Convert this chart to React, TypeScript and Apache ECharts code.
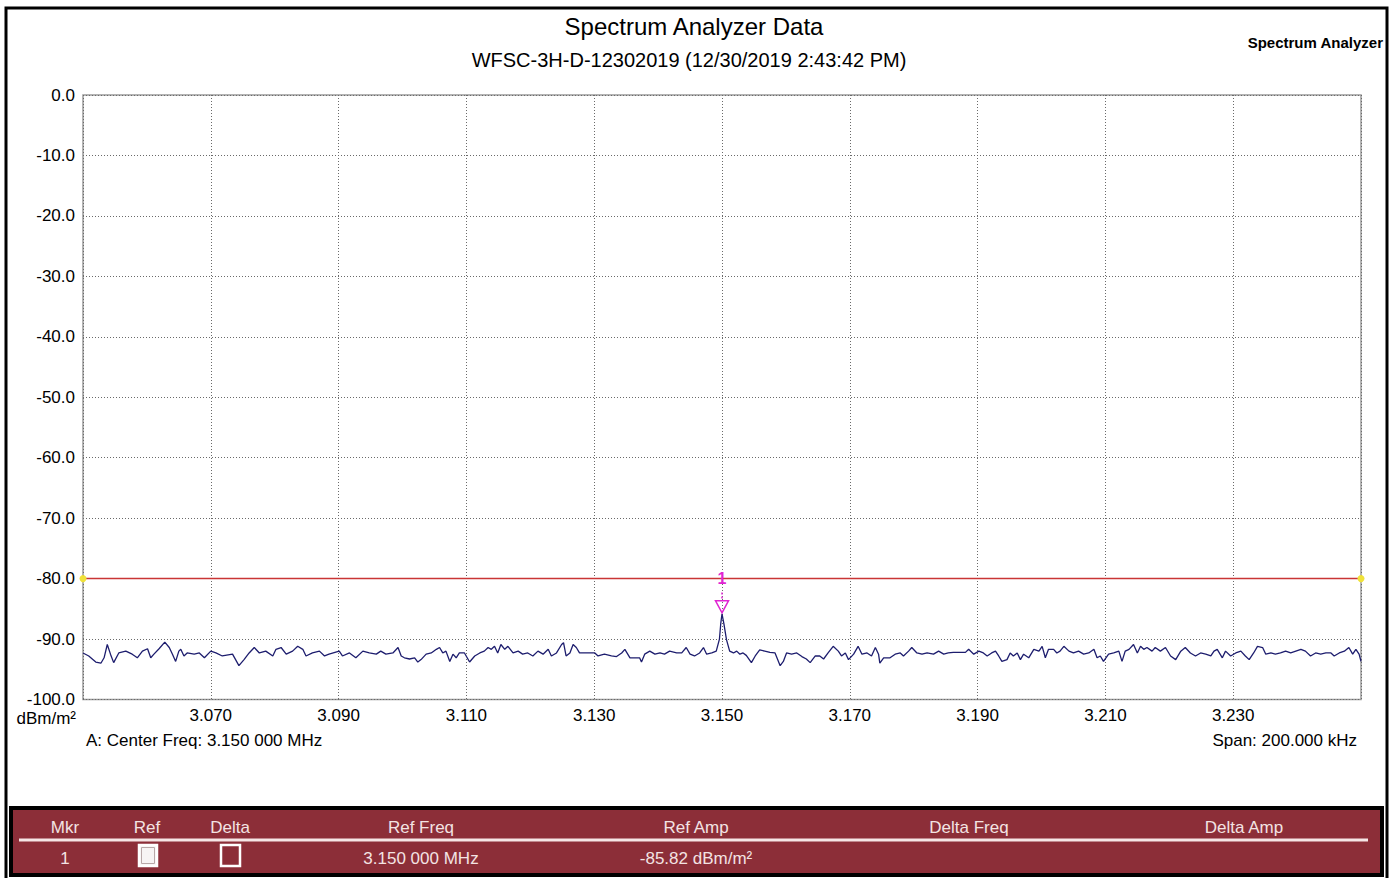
import React, { useEffect, useRef } from "react";
import * as echarts from "echarts";

// ---- data ----
const centerFreqMHz = 3.15;
const spanKHz = 200;
const xTickKHz = 20;
const yMin = -100;
const yMax = 0;
const yStep = 10;
const thresholdDbm = -80;
const markerOffsetKHz = 0;
const markerAmp = -85.82;

const titleText = "Spectrum Analyzer Data";
const subtitleText = "WFSC-3H-D-12302019 (12/30/2019 2:43:42 PM)";
const cornerText = "Spectrum Analyzer";
const unitText = "dBm/m²";
const centerText = "A: Center Freq: 3.150 000 MHz";
const spanText = "Span: 200.000 kHz";

const tableHeaders = ["Mkr", "Ref", "Delta", "Ref Freq", "Ref Amp", "Delta Freq", "Delta Amp"];
const tableRow = ["1", "", "", "3.150 000 MHz", "-85.82 dBm/m²", "", ""];

// frequency offset from centre (kHz) and amplitude (dBm/m²)
const traceOffsetKHz = [
  -100.0, -99.1, -98.0, -97.2, -96.7, -96.2, -95.7, -95.2, -94.4, -93.3, -92.3, -91.5, -90.7, -89.9, -89.4,
  -88.9, -88.1, -87.2, -86.5, -86.0, -85.5, -85.0, -84.7, -84.2, -83.7, -82.6, -81.8, -81.0, -80.0, -79.2,
  -78.2, -76.6, -75.6, -74.8, -74.0, -73.2, -72.4, -71.4, -70.3, -69.8, -69.0, -68.2, -67.2, -66.4, -65.6,
  -65.1, -64.1, -63.0, -62.2, -61.5, -59.9, -59.4, -58.3, -57.3, -56.2, -55.2, -54.1, -53.4, -52.6, -51.5,
  -50.7, -50.2,
  -49.7, -48.9, -48.1, -47.6, -47.1, -46.3, -45.5, -44.7, -44.2, -43.7, -43.2, -42.6, -42.1, -41.6, -41.1,
  -40.3, -39.5, -38.7, -37.9, -37.2, -36.6, -36.1, -35.6, -35.1, -34.6, -34.0, -33.5, -32.7, -31.9, -31.2,
  -30.4, -29.6, -28.8, -28.0, -27.2, -26.7, -25.9, -25.1, -24.8, -24.4, -23.8, -23.3, -22.8, -22.3, -21.8,
  -19.9, -19.4, -18.4, -17.3, -16.5, -15.7, -15.2, -14.4, -12.9, -12.6, -12.1, -11.3, -10.5, -9.7, -9.0,
  -8.2, -7.1, -6.3, -5.6, -5.0, -4.3, -3.5, -2.9, -2.4, -1.6, -0.9, -0.4, -0.2, 0.0, 0.3,
  0.7, 1.2, 1.8, 2.3, 2.8, 3.3, 3.8, 4.6, 5.2, 5.9, 6.7, 7.5, 8.3, 9.1, 9.6,
  10.1, 10.9, 11.7, 12.5, 13.2, 13.8, 14.6, 15.3, 15.9, 16.6, 17.4, 18.2, 18.7, 19.3, 19.8,
  20.6, 21.3, 21.9, 22.7, 23.4, 24.0, 24.5, 24.7, 25.3, 26.3, 27.1, 27.9, 28.4, 29.2, 29.7,
  30.5, 31.3, 32.1, 33.1, 33.9, 34.7, 35.4, 36.2, 38.1, 38.6, 39.4, 40.2, 40.9, 41.5, 42.2,
  42.8, 43.3, 43.8, 44.6, 45.1, 45.6, 46.2, 46.7, 47.2, 48.0, 48.8, 49.6, 50.1, 50.6, 51.1,
  51.9, 52.4, 52.9, 53.5, 54.3, 55.0, 55.8, 56.6, 57.4, 58.2, 58.7, 59.2, 59.7, 60.5, 61.3,
  62.1, 62.6, 63.1, 63.7, 64.4, 65.0, 65.5, 66.0, 66.5, 67.3, 67.8, 68.6, 69.4, 70.2, 71.0,
  71.8, 72.5, 73.3, 74.1, 74.9, 75.7, 76.5, 77.0, 77.5, 78.3, 78.8, 79.6, 80.4, 81.2, 81.9,
  82.5, 83.2, 83.8, 84.6, 85.1, 85.9, 86.6, 87.4, 88.2, 89.0, 89.8, 90.6, 91.3, 92.1, 92.9,
  93.7, 94.5, 95.3, 95.8, 96.6, 97.4, 98.1, 98.7, 99.2, 99.7, 100.0,
];
const traceAmp = [
  -92.3, -92.8, -93.8, -94.0, -93.1, -90.9, -92.5, -93.9, -92.3, -92.0, -92.5, -93.1, -92.0, -91.6, -93.1,
  -92.5, -91.6, -90.5, -91.4, -92.5, -93.7, -92.0, -91.7, -92.8, -92.3, -92.5, -92.3, -93.1, -92.0, -92.3,
  -92.8, -92.5, -94.4, -93.4, -92.3, -91.4, -92.3, -92.0, -92.8, -91.7, -91.4, -92.5, -92.0, -91.2, -91.7,
  -92.8, -92.3, -92.0, -92.8, -92.5, -92.0, -92.8, -92.3, -93.1, -92.0, -92.3, -92.5, -92.0, -92.5, -92.3,
  -91.4, -92.8,
  -93.1, -93.3, -93.1, -93.8, -93.4, -92.5, -92.3, -91.7, -91.4, -92.3, -92.0, -93.7, -92.5, -93.1, -92.3,
  -92.3, -93.8, -92.8, -92.3, -92.0, -91.4, -91.7, -91.2, -92.3, -90.9, -91.7, -91.2, -92.3, -92.0, -92.5,
  -92.3, -92.8, -92.0, -92.5, -91.7, -92.8, -92.3, -90.9, -90.6, -92.8, -92.3, -90.9, -91.4, -92.3, -92.3,
  -92.3, -92.8, -92.5, -92.8, -92.9, -92.3, -91.7, -93.1, -93.1, -93.8, -92.5, -92.0, -92.5, -92.3, -92.5,
  -92.0, -92.3, -92.3, -91.4, -92.5, -92.8, -92.3, -91.4, -92.5, -92.3, -92.0, -90.0, -87.5, -85.82, -87.5,
  -90.1, -92.0, -92.3, -92.0, -92.5, -92.3, -92.7, -93.9, -92.8, -91.8, -92.0, -92.2, -92.3, -94.4, -93.7,
  -92.3, -92.5, -92.3, -92.9, -93.3, -93.9, -92.8, -92.8, -93.3, -92.3, -91.2, -92.0, -92.8, -92.3, -93.4,
  -92.5, -91.2, -92.5, -92.3, -92.8, -91.4, -92.5, -94.0, -93.1, -93.1, -92.5, -92.3, -92.8, -92.0, -91.4,
  -92.3, -92.5, -92.3, -92.5, -92.0, -92.5, -92.3, -92.2, -92.2, -91.7, -92.5, -92.0, -92.3, -92.8, -92.3,
  -92.0, -92.8, -93.7, -93.4, -92.3, -92.8, -92.3, -93.4, -92.5, -93.1, -91.7, -92.0, -91.2, -93.1, -91.7,
  -91.7, -92.3, -92.0, -91.2, -92.0, -92.3, -92.0, -92.5, -92.3, -91.7, -93.1, -92.8, -93.7, -92.5, -92.3,
  -92.0, -93.7, -92.0, -91.7, -90.9, -92.3, -91.2, -91.7, -91.4, -92.0, -91.4, -92.0, -91.4, -92.8, -93.4,
  -92.0, -91.4, -92.3, -92.8, -92.3, -92.5, -92.8, -92.0, -91.7, -93.1, -92.0, -92.8, -92.3, -92.0, -92.8,
  -93.4, -92.3, -91.2, -91.4, -92.5, -92.3, -92.5, -92.3, -92.0, -92.3, -92.0, -91.7, -92.0, -92.8, -92.3,
  -92.5, -92.3, -92.3, -92.8, -92.3, -92.0, -91.4, -92.5, -91.7, -92.5, -93.7,
];

const FONT = "'Liberation Sans', Arial, Helvetica, sans-serif";

export default function App() {
  const ref = useRef<HTMLDivElement>(null);

  useEffect(() => {
    if (!ref.current) return;
    const chart = echarts.init(ref.current, null, { renderer: "svg" });

    const halfSpan = spanKHz / 2;
    const trace = traceOffsetKHz.map((x, i) => [x, traceAmp[i]]);

    const colCenters = [65, 147, 230, 421, 696, 969, 1244];
    const tableTop = 808;
    const tableLeft = 11;
    const tableRight = 1382;
    const tableBottom = 875;
    const headerY = 827;
    const rowY = 858;
    const txtColor = "#f3e3e3";

    const tableEls: any[] = [
      {
        type: "rect",
        shape: { x: tableLeft, y: tableTop, width: tableRight - tableLeft, height: tableBottom - tableTop },
        style: { fill: "#8c2e38", stroke: "#000", lineWidth: 4 },
      },
      {
        type: "line",
        shape: { x1: 19, y1: 840, x2: 1368, y2: 840 },
        style: { stroke: "#f6e6e6", lineWidth: 3 },
      },
    ];
    tableHeaders.forEach((h, i) => {
      tableEls.push({
        type: "text",
        x: colCenters[i],
        y: headerY,
        style: { text: h, font: `17px ${FONT}`, fill: txtColor, textAlign: "center", textVerticalAlign: "middle", align: "center", verticalAlign: "middle" },
      });
    });
    tableRow.forEach((v, i) => {
      if (!v) return;
      tableEls.push({
        type: "text",
        x: colCenters[i],
        y: rowY,
        style: { text: v, font: `17px ${FONT}`, fill: txtColor, textAlign: "center", textVerticalAlign: "middle", align: "center", verticalAlign: "middle" },
      });
    });
    // checkboxes (Ref checked = white interior, Delta = background)
    tableEls.push({
      type: "rect",
      shape: { x: 139, y: 845, width: 18, height: 21 },
      style: { fill: "#f7f4f4", stroke: "#ffffff", lineWidth: 2.5 },
    });
    tableEls.push({
      type: "rect",
      shape: { x: 141.5, y: 847.5, width: 13, height: 16 },
      style: { fill: "none", stroke: "#b8a8a8", lineWidth: 1 },
    });
    tableEls.push({
      type: "rect",
      shape: { x: 221, y: 845, width: 19, height: 21 },
      style: { fill: "#8c2e38", stroke: "#ffffff", lineWidth: 2.5 },
    });

    const txt = (text: string, x: number, y: number, size: number, align: string, weight = "normal") => ({
      type: "text",
      x,
      y,
      style: {
        text,
        font: `${weight} ${size}px ${FONT}`,
        fill: "#000",
        textAlign: align,
        align,
        textVerticalAlign: "middle",
        verticalAlign: "middle",
      },
    });

    chart.setOption({
      animation: false,
      backgroundColor: "#ffffff",
      grid: {
        left: 83,
        right: 31,
        top: 95,
        bottom: 178.5,
        show: true,
        borderColor: "#9a9a9a",
        borderWidth: 1.5,
        backgroundColor: "#ffffff",
        containLabel: false,
        outerBoundsMode: "none",
      },
      xAxis: {
        type: "value",
        min: -halfSpan,
        max: halfSpan,
        interval: xTickKHz,
        axisLine: { show: false },
        axisTick: { show: false },
        axisLabel: {
          showMinLabel: false,
          showMaxLabel: false,
          margin: 7,
          fontFamily: FONT,
          fontSize: 17,
          color: "#000",
          formatter: (v: number) => (centerFreqMHz + v / 1000).toFixed(3),
        },
        splitLine: { show: true, lineStyle: { color: "#6a6a6a", width: 1, type: [1, 2] } },
      },
      yAxis: {
        type: "value",
        min: yMin,
        max: yMax,
        interval: yStep,
        axisLine: { show: false },
        axisTick: { show: false },
        axisLabel: {
          margin: 8,
          fontFamily: FONT,
          fontSize: 17,
          color: "#000",
          formatter: (v: number) => v.toFixed(1),
        },
        splitLine: { show: true, lineStyle: { color: "#6a6a6a", width: 1, type: [1, 2] } },
      },
      series: [
        {
          type: "line",
          data: [
            [-halfSpan, thresholdDbm],
            [halfSpan, thresholdDbm],
          ],
          showSymbol: true,
          symbol: "circle",
          symbolSize: 7,
          itemStyle: { color: "#f0e23a" },
          lineStyle: { color: "#c93535", width: 1.5 },
          clip: false,
          z: 3,
        },
        {
          type: "line",
          data: trace,
          showSymbol: false,
          lineStyle: { color: "#1d1d6e", width: 1.3 },
          z: 4,
          markPoint: {
            symbol: "triangle",
            symbolSize: [13, 12],
            symbolRotate: 180,
            symbolOffset: [0, -7],
            itemStyle: { color: "rgba(255,255,255,0)", borderColor: "#e024d2", borderWidth: 1.5 },
            label: {
              show: true,
              position: "top",
              distance: 14,
              formatter: "1",
              color: "#e024d2",
              fontWeight: "bold",
              fontSize: 16,
              fontFamily: FONT,
            },
            data: [{ coord: [markerOffsetKHz, markerAmp] }],
          },
          markLine: {
            silent: true,
            symbol: ["none", "none"],
            label: { show: false },
            lineStyle: { color: "#e024d2", width: 1.5, type: [2, 2] },
            data: [[{ coord: [markerOffsetKHz, -82.3] }, { coord: [markerOffsetKHz, -83.4] }]],
          },
        },
      ],
      graphic: [
        {
          type: "rect",
          shape: { x: 6, y: 8, width: 1381, height: 876 },
          style: { fill: "none", stroke: "#000", lineWidth: 3 },
          z: 100,
        },
        txt(titleText, 694, 26, 24, "center"),
        txt(subtitleText, 689, 60, 20, "center"),
        txt(cornerText, 1383, 42, 15, "right", "bold"),
        txt(unitText, 76, 718, 17, "right"),
        txt(centerText, 86, 740, 17, "left"),
        txt(spanText, 1357, 740, 17, "right"),
        ...tableEls,
      ],
    });

    return () => chart.dispose();
  }, []);

  return (
    <div
      ref={ref}
      style={{ position: "absolute", left: 0, top: 0, width: 1392, height: 878, background: "#fff" }}
    />
  );
}
